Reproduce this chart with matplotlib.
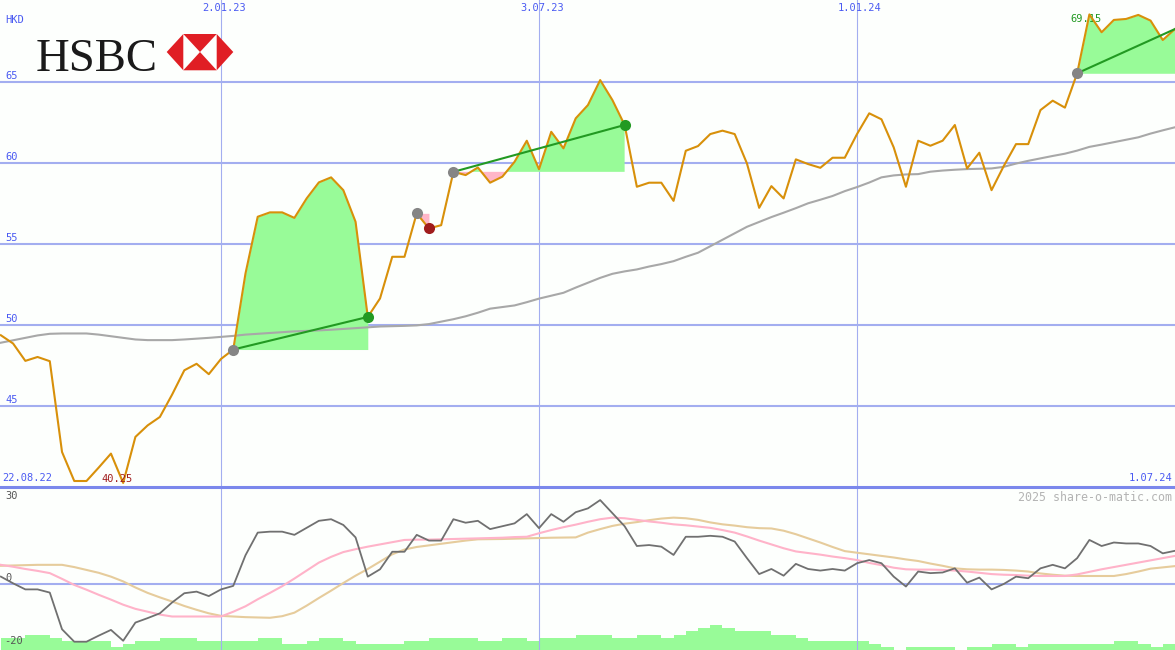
import numpy as np
import pandas as pd
import matplotlib
matplotlib.use('Agg')
import matplotlib.pyplot as plt
import matplotlib.dates as mdates
from matplotlib.patches import Polygon
from matplotlib.lines import Line2D

# ---------------- data ----------------
dates = pd.date_range('2022-08-29', periods=97, freq='7D')

price = [49.36, 48.85, 47.78, 48.02, 47.76, 42.16, 40.37, 40.37, 41.20, 42.06,
         40.25, 43.09, 43.80, 44.32, 45.70, 47.20, 47.60, 46.96, 47.90, 48.48,
         53.17, 56.67, 56.94, 56.94, 56.60, 57.80, 58.79, 59.10, 58.31, 56.36,
         50.49, 51.63, 54.20, 54.20, 56.88, 55.95, 56.15, 59.44, 59.24, 59.71,
         58.77, 59.14, 60.06, 61.36, 59.60, 61.91, 60.89, 62.74, 63.56, 65.10,
         63.87, 62.33, 58.52, 58.77, 58.77, 57.65, 60.74, 61.03, 61.77, 61.98,
         61.77, 59.96, 57.22, 58.56, 57.80, 60.21, 59.92, 59.69, 60.31, 60.31,
         61.77, 63.05, 62.68, 60.95, 58.52, 61.36, 61.05, 61.36, 62.33, 59.65,
         60.62, 58.31, 59.80, 61.15, 61.15, 63.25, 63.83, 63.40, 65.52, 69.15,
         68.05, 68.81, 68.87, 69.12, 68.77, 67.57, 68.25]

moving_avg = [48.90, 49.05, 49.20, 49.35, 49.45, 49.47, 49.47, 49.47, 49.40, 49.30,
              49.20, 49.10, 49.06, 49.06, 49.06, 49.10, 49.15, 49.20, 49.26, 49.32,
              49.40, 49.45, 49.50, 49.55, 49.60, 49.63, 49.66, 49.70, 49.75, 49.80,
              49.85, 49.90, 49.92, 49.94, 49.97, 50.05, 50.20, 50.35, 50.53, 50.75,
              51.00, 51.10, 51.20, 51.40, 51.62, 51.80, 51.98, 52.30, 52.60, 52.90,
              53.15, 53.30, 53.42, 53.60, 53.75, 53.93, 54.20, 54.45, 54.85, 55.25,
              55.65, 56.05, 56.35, 56.65, 56.92, 57.20, 57.50, 57.72, 57.95, 58.25,
              58.50, 58.78, 59.10, 59.22, 59.28, 59.30, 59.45, 59.52, 59.57, 59.61,
              59.63, 59.65, 59.75, 59.95, 60.12, 60.27, 60.42, 60.56, 60.75, 60.98,
              61.12, 61.27, 61.42, 61.57, 61.80, 62.00, 62.19]

momentum = [2.2, 0.1, -1.8, -1.8, -2.8, -14.3, -18.2, -18.2, -16.3, -14.5,
            -17.9, -12.2, -10.8, -9.3, -5.9, -3.0, -2.5, -3.9, -1.8, -0.7,
            8.9, 16.0, 16.3, 16.3, 15.3, 17.5, 19.7, 20.2, 18.4, 14.5,
            2.2, 4.5, 10.0, 10.0, 15.3, 13.5, 13.5, 20.2, 19.1, 19.7,
            17.1, 18.0, 18.9, 21.8, 17.4, 21.8, 19.4, 22.4, 23.6, 26.2,
            22.1, 18.0, 11.8, 12.1, 11.6, 9.0, 14.7, 14.7, 15.0, 14.7,
            13.2, 8.0, 3.0, 4.6, 2.5, 6.2, 4.6, 4.1, 4.6, 4.1,
            6.4, 7.4, 6.4, 2.2, -0.9, 3.8, 3.3, 3.5, 4.8, 0.3,
            1.9, -1.8, -0.1, 2.2, 1.7, 4.8, 5.9, 4.8, 8.0, 13.7,
            11.8, 12.9, 12.6, 12.6, 11.8, 9.5, 10.3]

mom_fast = [5.9, 5.3, 4.6, 4.0, 3.3, 1.5, -0.4, -1.9, -3.5, -5.0,
            -6.6, -7.9, -8.8, -9.7, -10.3, -10.3, -10.3, -10.3, -10.3, -8.8,
            -7.1, -4.9, -2.9, -0.8, 1.6, 4.1, 6.6, 8.4, 9.9, 10.8,
            11.6, 12.3, 13.0, 13.7, 13.8, 13.8, 13.9, 14.0, 14.1, 14.2,
            14.3, 14.4, 14.6, 14.7, 15.8, 16.8, 17.7, 18.5, 19.4, 20.2,
            20.7, 20.5, 20.0, 19.5, 19.1, 18.6, 18.3, 17.9, 17.5, 16.8,
            16.0, 14.8, 13.5, 12.3, 11.1, 10.1, 9.6, 9.1, 8.5, 8.0,
            7.4, 6.5, 5.8, 5.0, 4.5, 4.4, 4.4, 4.3, 4.1, 3.8,
            3.4, 3.0, 2.8, 2.7, 2.5, 2.4, 2.4, 2.4, 2.9, 3.7,
            4.5, 5.2, 5.9, 6.6, 7.3, 8.0, 8.7]

mom_slow = [5.6, 5.7, 5.8, 5.9, 5.9, 5.9, 5.2, 4.3, 3.4, 2.2,
            0.7, -1.2, -2.9, -4.3, -5.6, -7.0, -8.2, -9.3, -10.1, -10.3,
            -10.5, -10.6, -10.7, -10.2, -9.1, -6.9, -4.5, -2.2, 0.2, 2.5,
            4.6, 6.9, 9.2, 10.7, 11.5, 12.0, 12.5, 13.0, 13.5, 13.9,
            13.95, 14.0, 14.1, 14.2, 14.3, 14.4, 14.45, 14.5, 16.0, 17.1,
            18.1, 18.8, 19.3, 19.9, 20.4, 20.7, 20.5, 20.0, 19.2, 18.6,
            18.2, 17.7, 17.4, 17.3, 16.6, 15.5, 14.2, 12.9, 11.5, 10.2,
            9.7, 9.2, 8.7, 8.2, 7.6, 7.1, 6.3, 5.6, 4.8, 4.5,
            4.4, 4.4, 4.3, 4.1, 3.8, 3.2, 2.8, 2.5, 2.4, 2.4,
            2.4, 2.4, 3.0, 3.8, 4.7, 5.1, 5.5]

volume = [12, 12, 15, 15, 12, 9, 9, 9, 9, 3,
          6, 9, 9, 12, 12, 12, 9, 9, 9, 9,
          9, 12, 12, 6, 6, 9, 12, 12, 9, 6,
          6, 6, 6, 9, 9, 12, 12, 12, 12, 9,
          9, 12, 12, 9, 12, 12, 12, 15, 15, 15,
          12, 12, 15, 15, 12, 15, 19, 22, 25, 22,
          19, 19, 19, 15, 15, 12, 9, 9, 9, 9,
          9, 6, 3, 0, 3, 3, 3, 3, 0, 3,
          3, 6, 6, 3, 6, 6, 6, 6, 6, 6,
          6, 9, 9, 6, 3, 6, 6]

# trading signals: (start date, end date, kind)
signals = [('2023-01-09', '2023-03-27', 'up'),
           ('2023-04-24', '2023-05-01', 'down'),
           ('2023-05-15', '2023-08-21', 'up'),
           ('2024-05-06', '2024-07-01', 'open')]

grid_dates = ['2023-01-02', '2023-07-03', '2024-01-01']
grid_labels = ['2.01.23', '3.07.23', '1.01.24']
price_ticks = [45, 50, 55, 60, 65]
first_label, last_label = '22.08.22', '1.07.24'

# ---------------- style ----------------
W, H = 1175, 650
BG = '#fdfffd'
BLUE_TXT = '#4a5af2'
GRID = '#a3aef0'
ORANGE = '#d8900a'
GREEN_FILL = '#98fb98'
PINK_FILL = '#ffb6c8'
GREEN_LINE = '#229a22'
MONO = 'DejaVu Sans Mono'

price = np.array(price)
dnum = mdates.date2num(dates.to_pydatetime())

fig = plt.figure(figsize=(W / 100, H / 100), dpi=100, facecolor=BG)
split = 163 / H
ax = fig.add_axes([0, split, 1, 1 - split])
ax2 = fig.add_axes([0, 0, 1, split])
ax3 = ax2.twinx()
for a in (ax, ax2, ax3):
    a.set_axis_off()
ax2.set_zorder(ax3.get_zorder() + 1)
ax2.patch.set_visible(False)

xl = (mdates.date2num(pd.Timestamp('2022-08-28 12:00')),
      mdates.date2num(pd.Timestamp('2024-07-01')))
for a in (ax, ax2, ax3):
    a.set_xlim(xl)
ax.set_ylim(40, 70.04)
ax2.set_ylim(-20.8, 30.3)
ax3.set_ylim(0, 163)

# grid
for v in price_ticks:
    ax.axhline(v, color=GRID, lw=1.5, zorder=1)
ax2.axhline(0, color=GRID, lw=1.5, zorder=1)
gnum = [mdates.date2num(pd.Timestamp(d)) for d in grid_dates]
for g in gnum:
    ax.axvline(g, color=GRID, lw=0.8, zorder=1)
    ax2.axvline(g, color=GRID, lw=0.8, zorder=1)
fig.add_artist(Line2D([0, 1], [split, split], transform=fig.transFigure,
                      color='#7b88ec', lw=2.2, zorder=5))

def idx(d):
    return int(dates.get_loc(pd.Timestamp(d)))

# signals
for s, e, kind in signals:
    i0, i1 = idx(s), idx(e)
    dd = dnum[i0:i1 + 1]
    pp = price[i0:i1 + 1]
    base = price[i0]
    ax.fill_between(dd, base, pp, where=pp >= base, interpolate=True,
                    color=GREEN_FILL, lw=0, zorder=2)
    ax.fill_between(dd, base, pp, where=pp <= base, interpolate=True,
                    color=PINK_FILL, lw=0, zorder=2)

ax.plot(dnum, moving_avg, color='#a8a8a8', lw=1.5, zorder=3)
ax.plot(dnum, price, color=ORANGE, lw=1.5, zorder=4)

for s, e, kind in signals:
    i0, i1 = idx(s), idx(e)
    if kind != 'down':
        ax.plot([dnum[i0], dnum[i1]], [price[i0], price[i1]],
                color=GREEN_LINE, lw=1.5, zorder=5)
    ax.plot(dnum[i0], price[i0], 'o', ms=8, color='#858585', mec='none', zorder=6)
    if kind == 'up':
        ax.plot(dnum[i1], price[i1], 'o', ms=8, color=GREEN_LINE, mec='none', zorder=6)
    elif kind == 'down':
        ax.plot(dnum[i1], price[i1], 'o', ms=8, color='#a01c1c', mec='none', zorder=6)

# min / max labels
imin, imax = int(np.argmin(price)), int(np.argmax(price))
ax.annotate(f'{price[imin]:.2f}', xy=(dnum[imin], price[imin]), xytext=(-6, 4),
            textcoords='offset pixels', ha='center', va='center',
            color='#a01c1c', fontsize=7.5, family=MONO, zorder=7)
ax.annotate(f'{price[imax]:.2f}', xy=(dnum[imax], price[imax]), xytext=(-3, -5),
            textcoords='offset pixels', ha='center', va='center',
            color='#229a22', fontsize=7.5, family=MONO, zorder=3)

# axis texts (main)
ytr = ax.get_yaxis_transform()
for v in price_ticks:
    ax.annotate(str(v), xy=(0, v), xycoords=ytr, xytext=(5, 1),
                textcoords='offset pixels', va='bottom', ha='left',
                color=BLUE_TXT, fontsize=7.5, family=MONO)
xtr = ax.get_xaxis_transform()
for g, lab in zip(gnum, grid_labels):
    ax.annotate(lab, xy=(g, 1), xycoords=xtr, xytext=(3, -3),
                textcoords='offset pixels', va='top', ha='center',
                color=BLUE_TXT, fontsize=7.5, family=MONO)
ax.annotate('HKD', xy=(0, 1), xycoords='axes fraction', xytext=(5, -15),
            textcoords='offset pixels', va='top', ha='left',
            color=BLUE_TXT, fontsize=7.5, family=MONO)
ax.annotate(first_label, xy=(0, 0), xycoords='axes fraction', xytext=(2, 4),
            textcoords='offset pixels', va='bottom', ha='left',
            color=BLUE_TXT, fontsize=7.5, family=MONO)
ax.annotate(last_label, xy=(1, 0), xycoords='axes fraction', xytext=(-3, 4),
            textcoords='offset pixels', va='bottom', ha='right',
            color=BLUE_TXT, fontsize=7.5, family=MONO)

# lower panel
ax3.bar(dnum, volume, width=7, align='edge', color=GREEN_FILL, lw=0)
ax2.plot(dnum, mom_slow, color='#e6cc9c', lw=1.5, zorder=3)
ax2.plot(dnum, mom_fast, color='#ffb3c9', lw=1.5, zorder=3)
ax2.plot(dnum, momentum, color='#707070', lw=1.3, zorder=4)
ax2.annotate('30', xy=(0, 1), xycoords='axes fraction', xytext=(5, -4),
             textcoords='offset pixels', va='top', ha='left',
             color='#555555', fontsize=7.5, family=MONO)
ax2.annotate('0', xy=(0, 0), xycoords=ax2.get_yaxis_transform(), xytext=(5, 1),
             textcoords='offset pixels', va='bottom', ha='left',
             color='#555555', fontsize=7.5, family=MONO)
ax2.annotate('-20', xy=(0, 0), xycoords='axes fraction', xytext=(4, 4),
             textcoords='offset pixels', va='bottom', ha='left',
             color='#555555', fontsize=7.5, family=MONO)
ax2.annotate('2025 share-o-matic.com', xy=(1, 1), xycoords='axes fraction',
             xytext=(-3, -4), textcoords='offset pixels', va='top', ha='right',
             color='#b4b4b4', fontsize=8.4, family=MONO)

# logo
def P(x, y):
    return (x / W, 1 - y / H)

fig.text(*P(36, 70.7), 'HSBC', family='Liberation Serif', fontsize=33.7,
         color='#1a1a1a', va='baseline', ha='left')
RED = '#e01e24'
cx, cy = 200, 52
L, R, T, B = 183.3, 216.7, 34, 70.3
for tri in ([(166.7, cy), (L, T), (L, B)],
            [(233.3, cy), (R, T), (R, B)],
            [(L, T), (R, T), (cx, cy)],
            [(L, B), (R, B), (cx, cy)]):
    fig.add_artist(Polygon([P(*p) for p in tri], closed=True,
                           transform=fig.transFigure, facecolor=RED,
                           edgecolor='none'))

fig.savefig('out.png', dpi=100, facecolor=BG)
